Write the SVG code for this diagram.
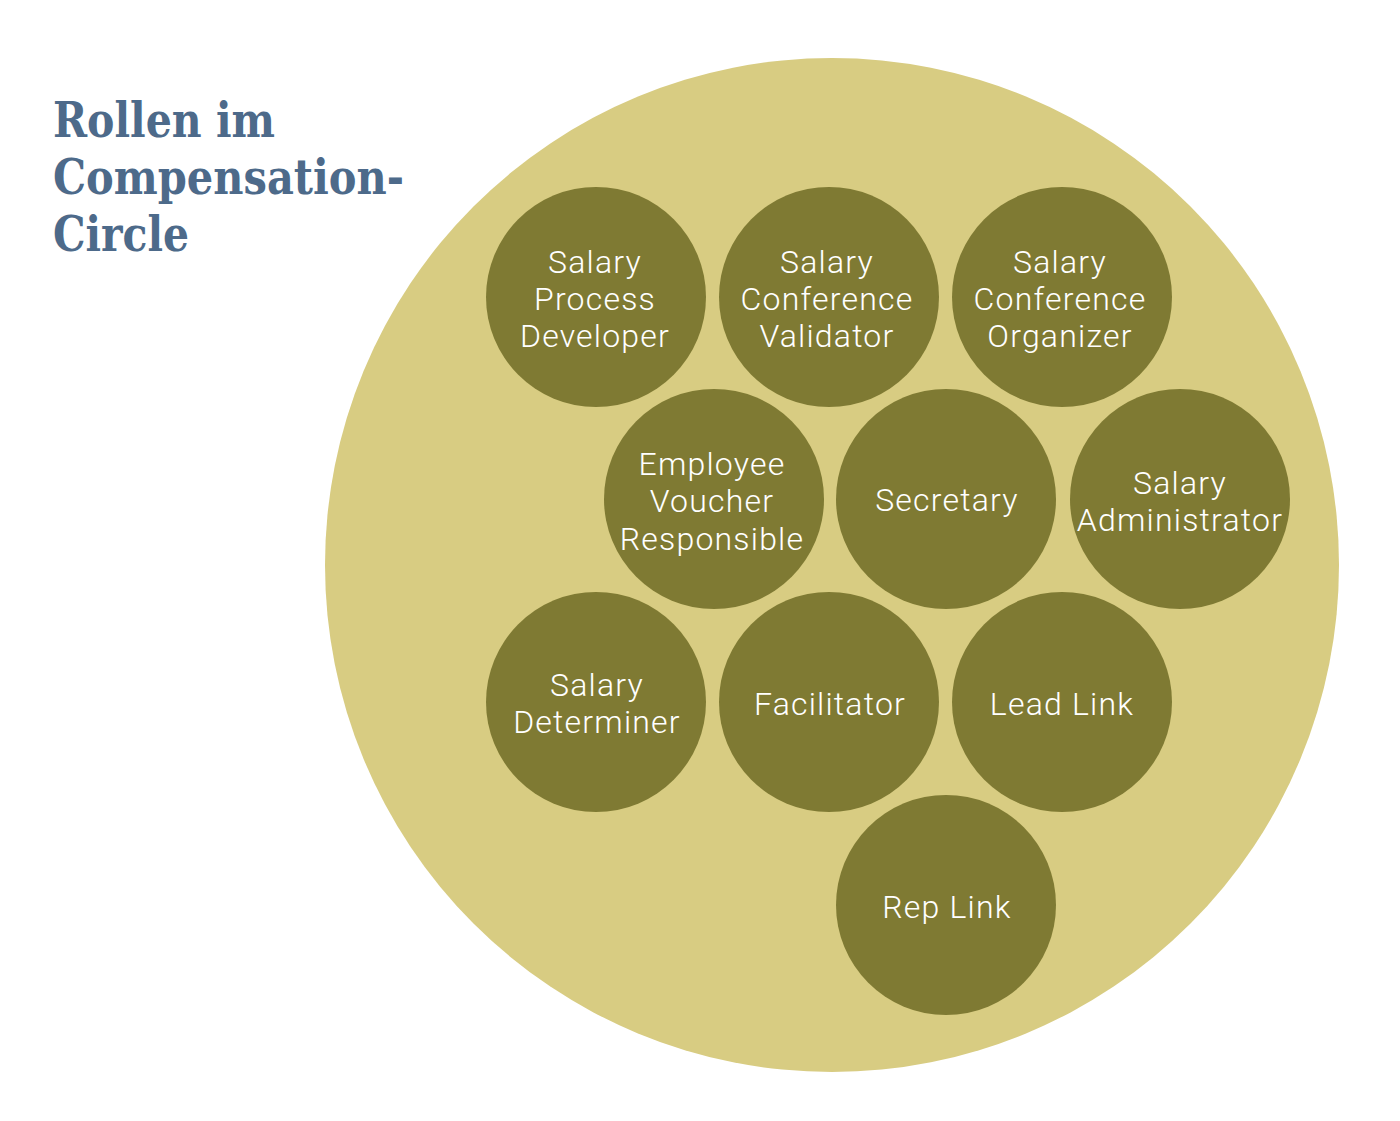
<svg xmlns="http://www.w3.org/2000/svg" width="1400" height="1121" viewBox="0 0 1400 1121">
<style>
.title{font-family:"Roboto Slab","DejaVu Serif","Liberation Serif",serif;font-weight:bold;font-size:48px;fill:#4d6a8a}
.bg{fill:#d8cc82}
.role{fill:#7f7a33}
.lbl{font-family:Roboto,"Liberation Sans",sans-serif;font-weight:300;font-size:32px;letter-spacing:1.2px;fill:#ffffff;text-anchor:middle}
</style>
<rect width="1400" height="1121" fill="#ffffff"/>
<g id="title">
<text class="title" x="53" y="137" textLength="222" lengthAdjust="spacingAndGlyphs">Rollen im</text>
<text class="title" x="53" y="194" textLength="351" lengthAdjust="spacingAndGlyphs">Compensation-</text>
<text class="title" x="53" y="251" textLength="136" lengthAdjust="spacingAndGlyphs">Circle</text>
</g>
<g id="circle-main"><circle class="bg" cx="832" cy="565" r="507"/></g>
<g id="connectors"></g>
<g id="n1"><circle class="role" cx="596" cy="297" r="110"/><text class="lbl" x="595" y="273">Salary<tspan x="595" y="310">Process</tspan><tspan x="595" y="347">Developer</tspan></text></g>
<g id="n2"><circle class="role" cx="829" cy="297" r="110"/><text class="lbl" x="827" y="273">Salary<tspan x="827" y="310">Conference</tspan><tspan x="827" y="347">Validator</tspan></text></g>
<g id="n3"><circle class="role" cx="1062" cy="297" r="110"/><text class="lbl" x="1060" y="273">Salary<tspan x="1060" y="310">Conference</tspan><tspan x="1060" y="347">Organizer</tspan></text></g>
<g id="n4"><circle class="role" cx="714" cy="499" r="110"/><text class="lbl" x="712" y="475">Employee<tspan x="712" y="512">Voucher</tspan><tspan x="712" y="550">Responsible</tspan></text></g>
<g id="n5"><circle class="role" cx="946" cy="499" r="110"/><text class="lbl" x="947" y="511">Secretary</text></g>
<g id="n6"><circle class="role" cx="1180" cy="499" r="110"/><text class="lbl" x="1180" y="494">Salary<tspan x="1180" y="531">Administrator</tspan></text></g>
<g id="n7"><circle class="role" cx="596" cy="702" r="110"/><text class="lbl" x="597" y="696">Salary<tspan x="597" y="733">Determiner</tspan></text></g>
<g id="n8"><circle class="role" cx="829" cy="702" r="110"/><text class="lbl" x="830" y="715">Facilitator</text></g>
<g id="n9"><circle class="role" cx="1062" cy="702" r="110"/><text class="lbl" x="1062" y="715">Lead Link</text></g>
<g id="n10"><circle class="role" cx="946" cy="905" r="110"/><text class="lbl" x="947" y="918">Rep Link</text></g>
</svg>
